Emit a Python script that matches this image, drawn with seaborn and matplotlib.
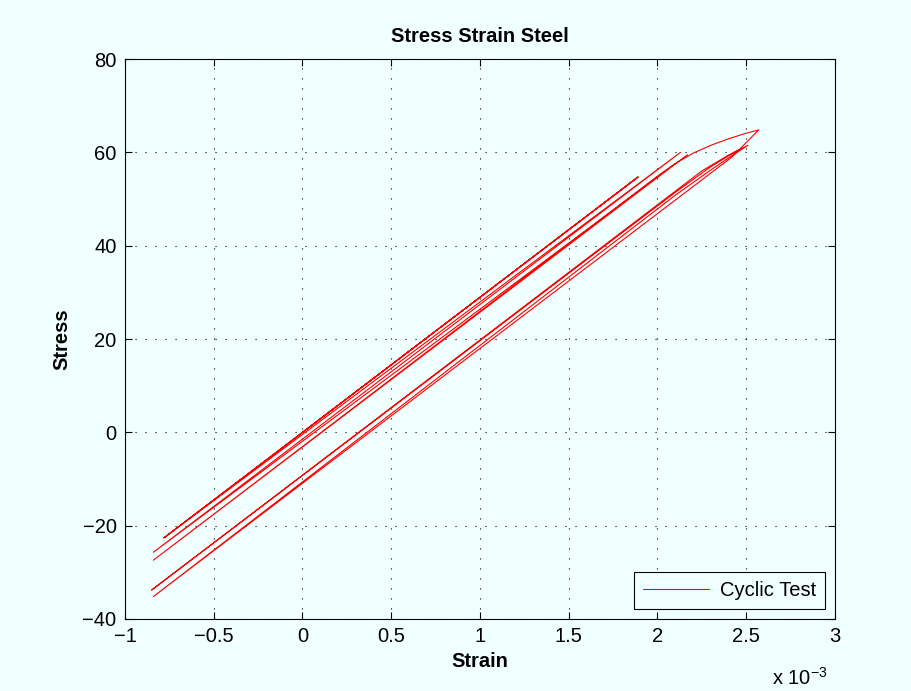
import numpy as np
import pandas as pd
import matplotlib
matplotlib.use("Agg")
import matplotlib.pyplot as plt
import seaborn as sns

# Strain (x 10^-3) and stress values along the cyclic test path
strain = [0.00, 1.89, -0.78, 1.89, -0.78,
          2.13, -0.84, 2.17, -0.84,
          2.00, 2.10, 2.20, 2.30, 2.40, 2.50, 2.57,
          2.42, -0.84,
          2.10, 2.30, 2.42, 2.51,
          2.40, 2.25, -0.85,
          2.10, 2.30, 2.46]
stress = [0.0, 54.7, -22.6, 54.7, -22.6,
          60.0, -25.7, 59.5, -27.4,
          54.9, 57.6, 59.8, 61.5, 62.9, 64.1, 64.8,
          59.0, -35.2,
          50.8, 56.2, 59.3, 61.5,
          59.4, 56.0, -33.8,
          51.4, 56.9, 60.6]

xticks = [-1, -0.5, 0, 0.5, 1, 1.5, 2, 2.5, 3]
xticklabels = ["\u22121", "\u22120.5", "0", "0.5", "1", "1.5", "2", "2.5", "3"]
yticks = [-40, -20, 0, 20, 40, 60, 80]
yticklabels = ["\u221240", "\u221220", "0", "20", "40", "60", "80"]

title = "Stress Strain Steel"
xlabel = "Strain"
ylabel = "Stress"
legend_label = "Cyclic Test"

sns.set_theme(style="white")
bg = "#f0ffff"
plt.rcParams["font.family"] = ["Liberation Sans", "DejaVu Sans"]
plt.rcParams["axes.unicode_minus"] = True
plt.rcParams["text.color"] = "black"
plt.rcParams["axes.labelcolor"] = "black"

df = pd.DataFrame({"order": np.arange(len(strain)), "strain": strain,
                   "stress": stress, "series": legend_label})

fig = plt.figure(figsize=(9.12, 6.91), dpi=100, facecolor=bg)
ax = fig.add_axes([0.137, 0.1042, 0.7785, 0.8104])
ax.set_facecolor(bg)

sns.lineplot(data=df, x="strain", y="stress", hue="series", sort=False,
             estimator=None, palette=["#ff0000"], linewidth=0.8, ax=ax)

ax.set_xlim(-1, 3)
ax.set_ylim(-40, 80)
ax.set_xticks(xticks)
ax.set_xticklabels(xticklabels)
ax.set_yticks(yticks)
ax.set_yticklabels(yticklabels)
ax.tick_params(direction="in", length=5, width=0.8, labelsize=14.5, colors="black",
               top=True, right=True, bottom=True, left=True, pad=6)
for s in ax.spines.values():
    s.set_visible(True)
    s.set_color("black")
    s.set_linewidth(0.8)

ax.grid(True, color="black", linestyle=(0, (1, 8)), linewidth=0.8)

ax.set_title(title, fontsize=14.5, fontweight="bold", pad=12, color="black")
ax.set_xlabel(xlabel, fontsize=14.5, fontweight="bold", labelpad=4, color="black")
ax.set_ylabel(ylabel, fontsize=14.5, fontweight="bold", labelpad=8, color="black")

ax.text(0.99, -0.085, r"x 10$^{\mathregular{-3}}$", transform=ax.transAxes,
        ha="right", va="top", fontsize=14.5, color="black")

leg = ax.legend(loc="lower right", fontsize=14.5, frameon=True, fancybox=False,
                borderaxespad=0.5, handlelength=3.3, handletextpad=0.5,
                borderpad=0.45)
leg.get_frame().set_edgecolor("black")
leg.get_frame().set_linewidth(0.8)
leg.get_frame().set_facecolor(bg)
leg.get_frame().set_alpha(1)
for line in leg.get_lines():
    line.set_linewidth(0.8)

fig.savefig("out.png", dpi=100, facecolor=bg)
